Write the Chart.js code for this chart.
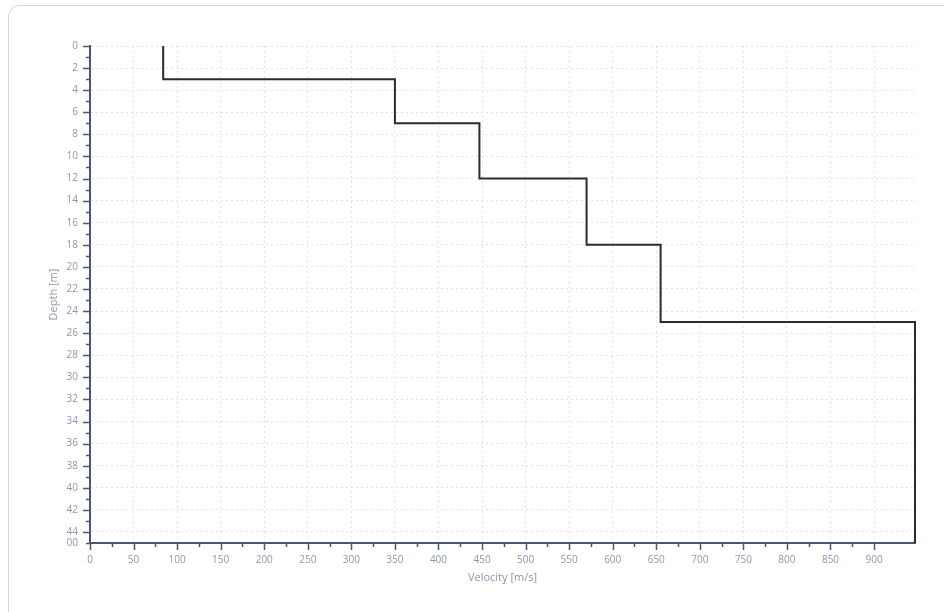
<!DOCTYPE html>
<html>
<head>
<meta charset="utf-8">
<script src="https://cdn.jsdelivr.net/npm/chart.js@4/dist/chart.umd.min.js"></script>
<style>
  html, body { margin: 0; padding: 0; background: #ffffff; overflow: hidden; }
  #wrap { position: relative; width: 944px; height: 612px; overflow: hidden; }
  #frame { position: absolute; left: 8px; top: 5px; width: 1000px; height: 700px;
           border: 1px solid #d6d6d6; border-radius: 12px; box-sizing: border-box; }
  canvas { position: absolute; left: 0; top: 0; }
</style>
</head>
<body>
<div id="wrap">
  <div id="frame"></div>
  <canvas id="c" width="944" height="612"></canvas>
</div>
<script>
// Layer data (velocity profile)
const layerTop = [0, 3, 7, 12, 18, 25];
const layerBottom = [3, 7, 12, 18, 25, 45];
const layerVelocity = [84, 350, 447, 570, 655, 947];

// Axis settings
const xMax = 947;
const yMax = 45;
const xLabelStep = 50;
const yLabelStep = 2;
const xTitle = 'Velocity [m/s]';
const yTitle = 'Depth [m]';
const bottomLabel = '00';

// Build step profile points
const profile = [];
for (let i = 0; i < layerVelocity.length; i++) {
  profile.push({ x: layerVelocity[i], y: layerTop[i] });
  profile.push({ x: layerVelocity[i], y: layerBottom[i] });
}

const axisColor = '#4a5672';
const labelColor = '#8e96ac';
const gridColor = '#e3e3e3';
const fontFamily = '"Open Sans", "DejaVu Sans", sans-serif';

const tickMarks = {
  id: 'tickMarks',
  afterDraw(chart) {
    const ctx = chart.ctx;
    const xs = chart.scales.x, ys = chart.scales.y;
    ctx.save();
    ctx.strokeStyle = axisColor;
    ctx.lineWidth = 1.5;
    ctx.beginPath();
    xs.ticks.forEach(t => {
      if (t.value % 25 !== 0) return;
      const px = Math.round(xs.getPixelForValue(t.value)) + 0.5;
      const len = (t.value % xLabelStep === 0) ? 7 : 4;
      ctx.moveTo(px, xs.top);
      ctx.lineTo(px, xs.top + len);
    });
    ys.ticks.forEach(t => {
      const py = Math.round(ys.getPixelForValue(t.value)) + 0.5;
      const len = (t.value % yLabelStep === 0) ? 7 : 4;
      ctx.moveTo(ys.right, py);
      ctx.lineTo(ys.right - len, py);
    });
    ctx.stroke();
    ctx.restore();
  }
};

new Chart(document.getElementById('c'), {
  type: 'line',
  data: {
    datasets: [{
      data: profile,
      parsing: false,
      borderColor: '#2b2b2b',
      borderWidth: 2,
      pointRadius: 0,
      tension: 0,
      fill: false,
      clip: 4
    }]
  },
  options: {
    responsive: false,
    animation: false,
    devicePixelRatio: 1,
    layout: { padding: { top: 46, right: 29, bottom: 0, left: 0 } },
    plugins: { legend: { display: false }, tooltip: { enabled: false } },
    scales: {
      x: {
        type: 'linear',
        min: 0,
        max: xMax,
        afterFit(scale) { scale.height = 612 - 543; },
        ticks: {
          stepSize: 25,
          autoSkip: false,
          maxRotation: 0,
          padding: 11,
          color: labelColor,
          font: { family: fontFamily, size: 10 },
          callback(v) { return (v % xLabelStep === 0) ? String(v) : ''; }
        },
        grid: {
          drawTicks: false,
          color(ctx) {
            const v = ctx.tick ? ctx.tick.value : 0;
            return (v !== 0 && v % xLabelStep === 0) ? gridColor : 'transparent';
          },
          lineWidth: 1
        },
        border: { display: true, color: axisColor, width: 2, dash: [2, 3] },
        title: {
          display: true,
          text: xTitle,
          color: labelColor,
          font: { family: fontFamily, size: 11 },
          padding: { top: 0, bottom: 28 }
        }
      },
      y: {
        type: 'linear',
        reverse: true,
        min: 0,
        max: yMax,
        afterFit(scale) { scale.width = 90; },
        ticks: {
          stepSize: 1,
          autoSkip: false,
          padding: 12,
          color: labelColor,
          font: { family: fontFamily, size: 10 },
          callback(v) {
            if (v === yMax) return bottomLabel;
            return (v % yLabelStep === 0) ? String(v) : '';
          }
        },
        grid: {
          drawTicks: false,
          color(ctx) {
            const v = ctx.tick ? ctx.tick.value : 0;
            return (v !== yMax && v % yLabelStep === 0) ? gridColor : 'transparent';
          },
          lineWidth: 1
        },
        border: { display: true, color: axisColor, width: 2, dash: [2, 3] },
        title: {
          display: true,
          text: yTitle,
          color: labelColor,
          font: { family: fontFamily, size: 11 },
          padding: { top: 47, bottom: 0 }
        }
      }
    }
  },
  plugins: [tickMarks]
});
</script>
</body>
</html>
